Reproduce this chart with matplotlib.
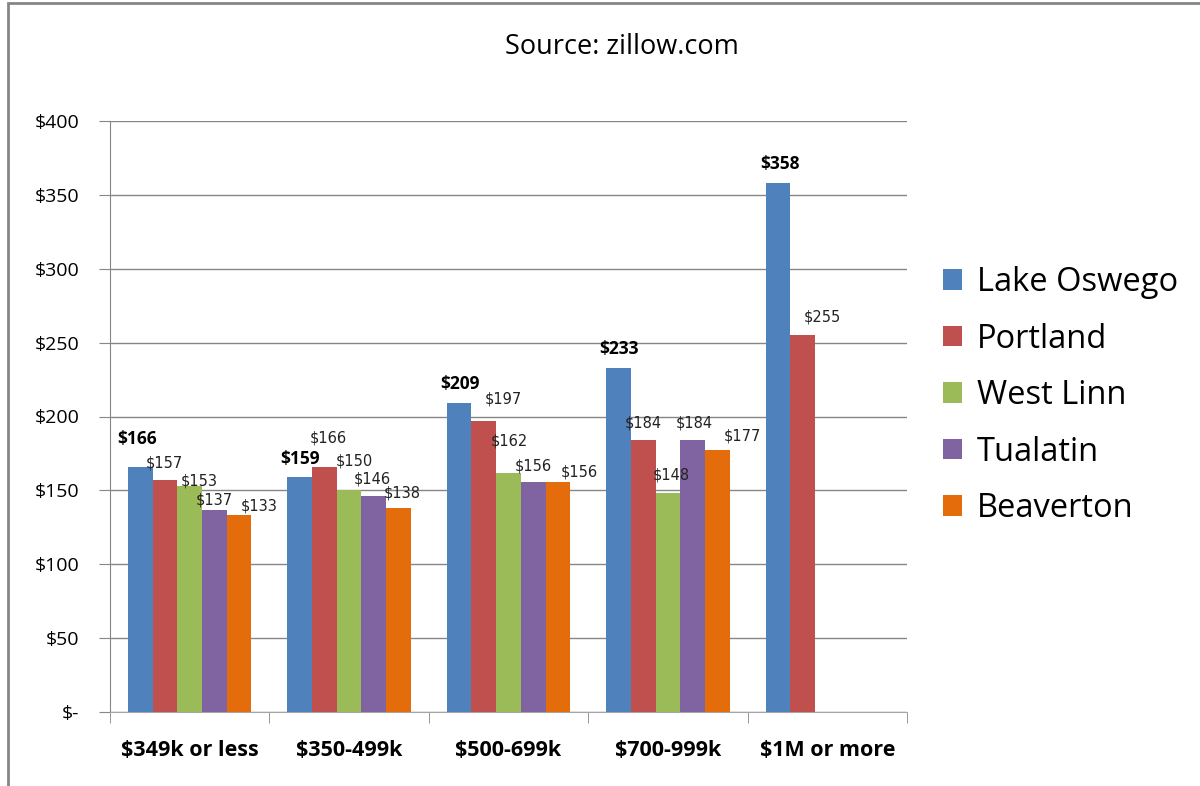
import matplotlib.pyplot as plt
import numpy as np
from matplotlib.patches import Rectangle

# Price per sq ft by home price range
categories = ["$349k or less", "$350-499k", "$500-699k", "$700-999k", "$1M or more"]
cities = ["Lake Oswego", "Portland", "West Linn", "Tualatin", "Beaverton"]
lake_oswego = [166, 159, 209, 233, 358]
portland = [157, 166, 197, 184, 255]
west_linn = [153, 150, 162, 148, None]
tualatin = [137, 146, 156, 184, None]
beaverton = [133, 138, 156, 177, None]
series = [lake_oswego, portland, west_linn, tualatin, beaverton]
colors = ["#4F81BD", "#C0504D", "#9BBB59", "#8064A2", "#E46C0A"]

# label nudges in pixels (dx, dy above bar top), like the Excel layout
label_nudge = [
    [(-3, 28), (0, 18), (1, 19), (1, 19), (2, 19)],
    [(-1, 17), (4, 29), (20, 22), (0, 17), (20, 18)],
    [(10, 5), (5, 29), (1, 32), (3, 18), None],
    [(0, 10), (-1, 17), (0, 16), (2, 17), None],
    [(20, 9), (4, 15), (21, 10), (25, 14), None],
]

fig = plt.figure(figsize=(12, 7.86), dpi=100)
ax = fig.add_axes([110/1200, 1-712/786, 797/1200, 591/786])

# outer chart border
fig.patches.append(Rectangle((8/1200, -0.1), 1.2, 1-3/786+0.1, transform=fig.transFigure,
                             fill=False, edgecolor="#868686", linewidth=2))

x = np.arange(len(categories))
w = 0.155
for j, (name, vals, c) in enumerate(zip(cities, series, colors)):
    xs = [xi + (j-2)*w for xi, v in zip(x, vals) if v is not None]
    ys = [v for v in vals if v is not None]
    ax.bar(xs, ys, width=w, color=c, label=name, zorder=3)
    for k, (xi, v) in enumerate(zip(xs, ys)):
        dx, dy = label_nudge[j][k]
        if j == 0:
            ax.annotate(f"${v}", (xi, v), xytext=(dx, dy), textcoords="offset pixels",
                        ha="center", va="center", fontsize=12.5, fontweight="bold",
                        family="Open Sans", color="black", zorder=6)
        else:
            ax.annotate(f"${v}", (xi, v), xytext=(dx, dy), textcoords="offset pixels",
                        ha="center", va="center", fontsize=10.5, family="DejaVu Sans",
                        color="#222222", zorder=6)

ax.set_xlim(-0.5, len(categories)-0.5)
ax.set_ylim(0, 400)
yt = np.arange(0, 401, 50)
ax.set_yticks(yt)
ax.set_yticklabels(["$-" if v == 0 else f"${v}" for v in yt], family="Open Sans", fontsize=14)
ax.set_xticks(x)
ax.set_xticklabels(categories, family="Open Sans", fontsize=15.5, fontweight="bold")
ax.tick_params(axis="x", length=0, pad=20)
ax.set_xticks(np.arange(-0.5, len(categories)), minor=True)
ax.tick_params(axis="x", which="minor", length=8, color="#868686")
ax.tick_params(axis="y", length=8, color="#868686", pad=14)
ax.yaxis.grid(True, color="#868686", linewidth=1)
ax.set_axisbelow(True)
for s in ["top", "right"]:
    ax.spines[s].set_visible(False)
ax.spines["left"].set_color("#868686")
ax.spines["bottom"].set_color("#A6A6A6")

fig.text(622/1200, 1-47/786, "Source: zillow.com", ha="center", va="center",
         family="Open Sans", fontsize=19.5)

leg = ax.legend(loc="center left", bbox_to_anchor=(1.045, 0.5355), frameon=False,
                prop={"family": "Open Sans", "size": 23.5}, handlelength=0.6, handleheight=0.6,
                handletextpad=0.45, labelspacing=0.72, borderpad=0, borderaxespad=0)

fig.savefig("out.png", dpi=100)
